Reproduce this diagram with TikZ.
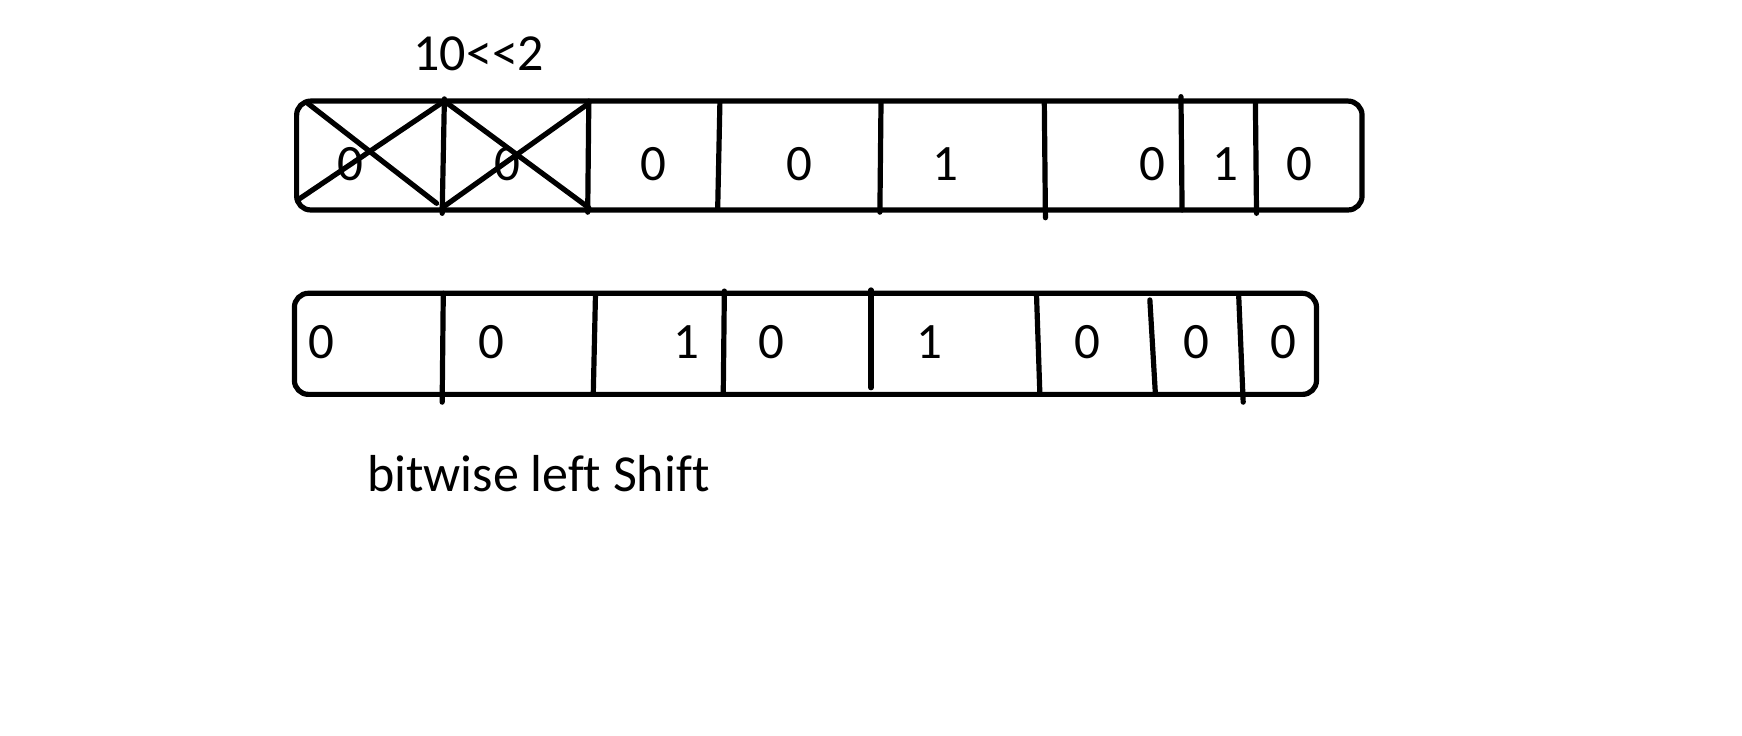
\documentclass[tikz,border=0pt]{standalone}
\usepackage{fontspec}
\setmainfont{Carlito}[Ligatures={NoCommon}]
\tikzset{
  frame/.style={line width=2.6pt, rounded corners=7pt},
  divider/.style={line width=2.6pt, line cap=round},
  bit/.style={font=\fontsize{25.5}{30}\selectfont, inner sep=0pt},
  caption/.style={font=\fontsize{26}{30}\selectfont, inner sep=0pt}
}
\begin{document}
\begin{tikzpicture}[x=0.5555pt, y=-0.5555pt]
    \useasboundingbox (0,0) rectangle (1568,662);
    % title
    \node[caption] (title) at (431,48) {10{<}{<}2};
    % original value
    \draw[frame] (267,91) rectangle (1226,189);
    \draw[divider] (400,89) -- (398,192);
    \draw[divider] (530,91) -- (529,191);
    \draw[divider] (648,92) -- (646,188);
    \draw[divider] (793,92) -- (792,191);
    \draw[divider] (940,93) -- (941,196);
    \draw[divider] (1063,87) -- (1064,189);
    \draw[divider] (1130,92) -- (1131,192);
    % crossed out bits
    \draw[divider] (277,93) -- (393,183);
    \draw[divider] (268,180) -- (400,91);
    \draw[divider] (400,91) -- (530,187);
    \draw[divider] (398,187) -- (530,93);
    \node[bit] (t1) at (315,148) {0};
    \node[bit] (t2) at (457,148) {0};
    \node[bit] (t3) at (588,148) {0};
    \node[bit] (t4) at (720,148) {0};
    \node[bit] (t5) at (851,148) {1};
    \node[bit] (t6) at (1037,148) {0};
    \node[bit] (t7) at (1103,148) {1};
    \node[bit] (t8) at (1170,148) {0};
    % shifted value
    \draw[frame] (265,264) rectangle (1185,355);
    \draw[divider] (399,264) -- (398,362);
    \draw[divider] (536,265) -- (534,355);
    \draw[divider] (652,262) -- (651,355);
    \draw[divider] (784,261) -- (784,349);
    \draw[divider] (933,266) -- (936,355);
    \draw[divider] (1035,270) -- (1040,355);
    \draw[divider] (1115,267) -- (1119,362);
    \node[bit] (b1) at (289,308) {0};
    \node[bit] (b2) at (442,308) {0};
    \node[bit] (b3) at (618,308) {1};
    \node[bit] (b4) at (694,308) {0};
    \node[bit] (b5) at (837,308) {1};
    \node[bit] (b6) at (979,308) {0};
    \node[bit] (b7) at (1077,308) {0};
    \node[bit] (b8) at (1155,308) {0};
    \node[caption, anchor=base west] (label) at (330,442) {bitwise left Shift};
\end{tikzpicture}
\end{document}
